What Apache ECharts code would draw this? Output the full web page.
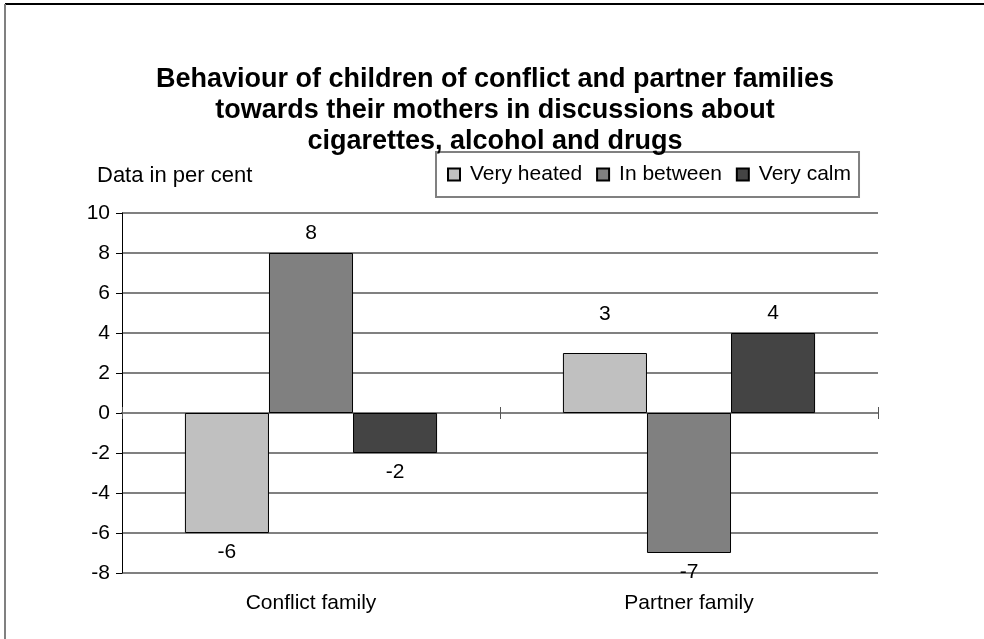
<!DOCTYPE html>
<html>
<head>
<meta charset="utf-8">
<script src="https://cdn.jsdelivr.net/npm/echarts@6/dist/echarts.min.js"></script>
<style>
  html, body { margin: 0; padding: 0; background: #fff; }
  #chart { width: 984px; height: 639px; }
</style>
</head>
<body>
<div id="chart"></div>
<script>
  const families = ["Conflict family", "Partner family"];
  const seriesNames = ["Very heated", "In between", "Very calm"];
  const veryHeated = [-6, 3];
  const inBetween = [8, -7];
  const veryCalm = [-2, 4];
  const yTicks = { min: -8, max: 10, step: 2 };
  const colors = ["#c0c0c0", "#808080", "#444444"];
  const font = "Liberation Sans, Arial, sans-serif";

  const chart = echarts.init(document.getElementById("chart"));
  const plotBox = { left: 122, right: 106, top: 213, bottom: 66 };

  function barSeries(name, values, color, index) {
    return {
      name,
      type: "bar",
      xAxisIndex: 0,
      yAxisIndex: 0,
      barGap: 0,
      barCategoryGap: "33.3%",
      itemStyle: { color, borderColor: "#000", borderWidth: 1 },
      data: values.map((v, i) => ({
        value: v,
        label: {
          show: true,
          position: v < 0 ? "bottom" : "top",
          // the "3" label sits higher in the original
          distance: index === 0 && i === 1 ? 28 : 9,
          fontSize: 21, fontFamily: font, color: "#000"
        }
      }))
    };
  }

  // zero line with ticks crossing it: grid 0 ticks down, overlay grid 1 ticks up
  const tickAxis = (inside, gridIndex) => ({
    type: "category", data: families, position: "bottom", gridIndex,
    axisLine: { show: true, onZero: true, lineStyle: { color: "#808080", width: 2 } },
    axisTick: { show: true, inside, length: 6, lineStyle: { color: "#555", width: 1 } },
    axisLabel: { show: false }
  });

  chart.setOption({
    animation: false,
    textStyle: { fontFamily: font },
    title: [
      {
        text: "Behaviour of children of conflict and partner families\ntowards their mothers in discussions about\ncigarettes, alcohol and drugs",
        left: 490, top: 59, textAlign: "center",
        textStyle: { fontSize: 27, fontWeight: "bold", lineHeight: 31, color: "#000", fontFamily: font }
      },
      {
        text: "Data in per cent",
        left: 92, top: 160,
        textStyle: { fontSize: 22, fontWeight: "normal", color: "#000", fontFamily: font }
      }
    ],
    legend: {
      data: seriesNames,
      left: 436, top: 152,
      orient: "horizontal",
      padding: [12, 8, 12, 11],
      itemGap: 14,
      itemWidth: 12, itemHeight: 12,
      icon: "rect",
      borderColor: "#808080", borderWidth: 2,
      textStyle: { fontSize: 21, color: "#000", fontFamily: font, padding: [0, 0, 0, 5] }
    },
    grid: [
      Object.assign({ containLabel: false }, plotBox),
      Object.assign({ containLabel: false }, plotBox)
    ],
    xAxis: [
      {
        type: "category", data: families, position: "bottom", gridIndex: 0,
        axisLine: { show: false, onZero: false }, axisTick: { show: false },
        axisLabel: { margin: 20, fontSize: 21, color: "#000", fontFamily: font }
      },
      tickAxis(false, 0),
      tickAxis(true, 1)
    ],
    yAxis: [
      {
        type: "value", gridIndex: 0,
        min: yTicks.min, max: yTicks.max, interval: yTicks.step,
        axisLine: { show: true, lineStyle: { color: "#000", width: 1 } },
        axisTick: { show: true, length: 6, lineStyle: { color: "#000" } },
        axisLabel: { fontSize: 21, color: "#000", margin: 12, fontFamily: font },
        splitLine: { show: true, lineStyle: { color: "#808080", width: 2 } }
      },
      {
        type: "value", gridIndex: 1,
        min: yTicks.min, max: yTicks.max, interval: yTicks.step,
        axisLine: { show: false }, axisTick: { show: false },
        axisLabel: { show: false }, splitLine: { show: false }
      }
    ],
    graphic: [
      { type: "line", shape: { x1: 5, y1: 4, x2: 984, y2: 4 }, style: { stroke: "#000", lineWidth: 2 } },
      { type: "line", shape: { x1: 5, y1: 4, x2: 5, y2: 639 }, style: { stroke: "#808080", lineWidth: 2 } }
    ],
    series: [
      barSeries(seriesNames[0], veryHeated, colors[0], 0),
      barSeries(seriesNames[1], inBetween, colors[1], 1),
      barSeries(seriesNames[2], veryCalm, colors[2], 2)
    ]
  });
</script>
</body>
</html>
